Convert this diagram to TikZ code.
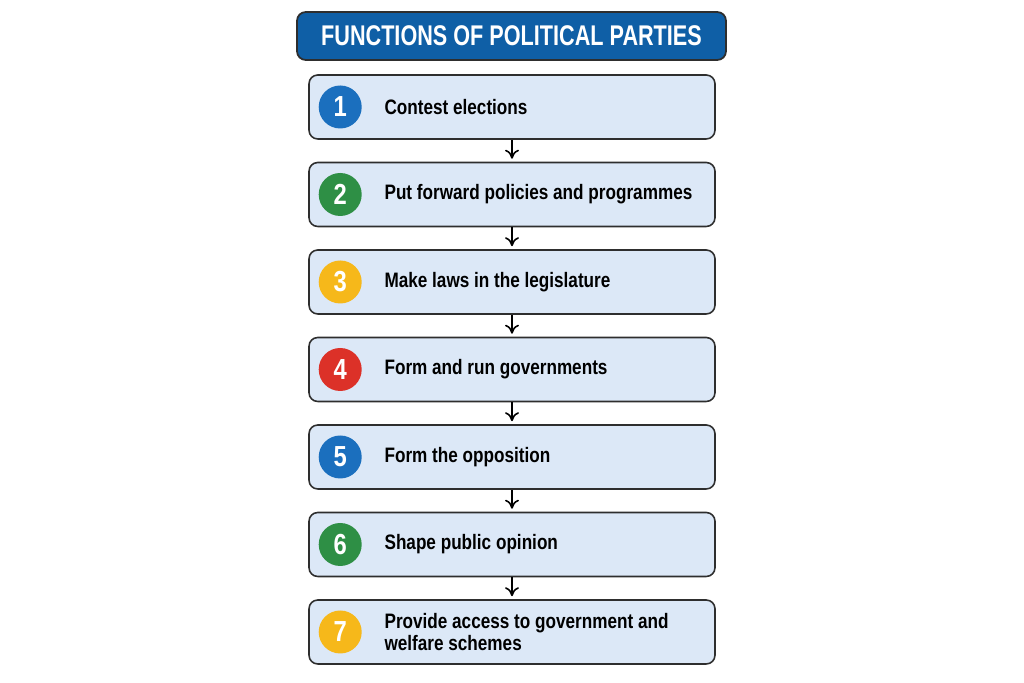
\documentclass[tikz,border=0pt]{standalone}
\usepackage{fontspec}
\setmainfont{Liberation Sans}[FakeStretch=0.82]
\newfontfamily\titlefont{Liberation Sans}[FakeStretch=0.76]
\usetikzlibrary{arrows.meta, positioning}
\definecolor{titleblue}{HTML}{0F5FA6}
\definecolor{boxfill}{HTML}{DCE8F7}
\definecolor{boxline}{HTML}{2E2E2E}
\definecolor{nblue}{HTML}{1B6FBE}
\definecolor{ngreen}{HTML}{2E8F45}
\definecolor{nyellow}{HTML}{F6B81A}
\definecolor{nred}{HTML}{DC3128}

\begin{document}
\begin{tikzpicture}[
    node distance=1.75cm, % vertical pitch of the steps
    on grid,
    title/.style={rectangle, draw=boxline, fill=titleblue, rounded corners=5pt, line width=1pt, minimum width=8.58cm, minimum height=0.96cm, text=white, font=\titlefont\bfseries\fontsize{16.2}{18}\selectfont},
    box/.style={rectangle, draw=boxline, fill=boxfill, rounded corners=5pt, line width=0.9pt, minimum width=8.12cm, minimum height=1.28cm},
    num/.style={circle, minimum size=0.86cm, inner sep=0pt, text=white, font=\bfseries\fontsize{16.5}{18}\selectfont},
    label/.style={anchor=west, align=left, inner sep=0pt, font=\bfseries\fontsize{11.9}{12.8}\selectfont},
    arrow/.style={-{To[length=1.8mm, width=2.8mm]}, line width=0.9pt, black, shorten >=0.06cm}
]
    \useasboundingbox (0,0) rectangle (20.48,-13.66);

    % Title
    \node[title] (title) at (10.23,-0.72) {FUNCTIONS OF POLITICAL PARTIES};

    % Steps
    \node[box] (f1) at (10.24,-2.14) {};
    \node[box, below=of f1] (f2) {};
    \node[box, below=of f2] (f3) {};
    \node[box, below=of f3] (f4) {};
    \node[box, below=of f4] (f5) {};
    \node[box, below=of f5] (f6) {};
    \node[box, below=of f6] (f7) {};

    % Numbers
    \node[num, fill=nblue] (n1) at ([xshift=0.64cm]f1.west) {1};
    \node[num, fill=ngreen] (n2) at ([xshift=0.64cm]f2.west) {2};
    \node[num, fill=nyellow] (n3) at ([xshift=0.64cm]f3.west) {3};
    \node[num, fill=nred] (n4) at ([xshift=0.64cm]f4.west) {4};
    \node[num, fill=nblue] (n5) at ([xshift=0.64cm]f5.west) {5};
    \node[num, fill=ngreen] (n6) at ([xshift=0.64cm]f6.west) {6};
    \node[num, fill=nyellow] (n7) at ([xshift=0.64cm]f7.west) {7};

    % Texts
    \node[label] (t1) at ([xshift=1.52cm]f1.west) {Contest elections};
    \node[label] (t2) at ([xshift=1.52cm]f2.west) {Put forward policies and programmes};
    \node[label] (t3) at ([xshift=1.52cm]f3.west) {Make laws in the legislature};
    \node[label] (t4) at ([xshift=1.52cm]f4.west) {Form and run governments};
    \node[label] (t5) at ([xshift=1.52cm]f5.west) {Form the opposition};
    \node[label] (t6) at ([xshift=1.52cm]f6.west) {Shape public opinion};
    \node[label] (t7) at ([xshift=1.52cm]f7.west) {Provide access to government and\\welfare schemes};

    % Arrows between steps
    \draw[arrow] (f1) -- (f2);
    \draw[arrow] (f2) -- (f3);
    \draw[arrow] (f3) -- (f4);
    \draw[arrow] (f4) -- (f5);
    \draw[arrow] (f5) -- (f6);
    \draw[arrow] (f6) -- (f7);
\end{tikzpicture}
\end{document}
